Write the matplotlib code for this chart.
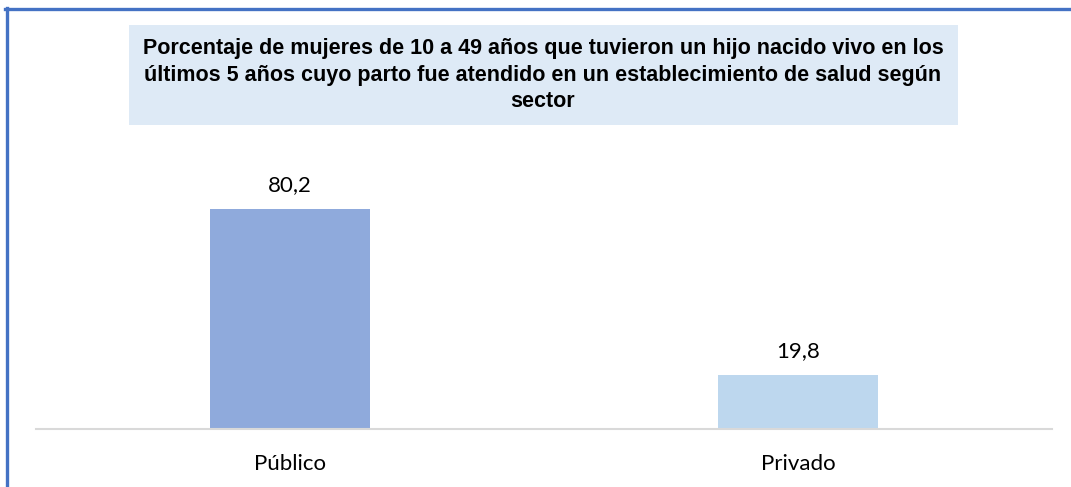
import matplotlib
matplotlib.use("Agg")
import matplotlib.pyplot as plt
from matplotlib.patches import Rectangle
from matplotlib.lines import Line2D

categories = ["Público", "Privado"]
values = [80.2, 19.8]
value_labels = ["80,2", "19,8"]
bar_colors = ["#8FAADC", "#BDD7EE"]
title = ("Porcentaje de mujeres de 10 a 49 años que tuvieron un hijo nacido vivo en los\n"
         "últimos 5 años cuyo parto fue atendido en un establecimiento de salud según\n"
         "sector")

W, H = 1071, 487
fig = plt.figure(figsize=(W / 100, H / 100), dpi=100)


def fx(px):
    return px / W


def fy(py):
    return 1 - py / H


# outer frame (top and left blue lines)
fig.add_artist(Line2D([fx(5), fx(W)], [fy(8.5), fy(8.5)], color="#4472C4", lw=2.4))
fig.add_artist(Line2D([fx(6.5), fx(6.5)], [fy(7.5), fy(H)], color="#4472C4", lw=2.4))

# title box
fig.add_artist(Rectangle((fx(129), fy(125)), fx(958 - 129), (125 - 25) / H,
                         facecolor="#DEEAF6", edgecolor="none"))
fig.text(fx(543), fy(75), title, ha="center", va="center", fontsize=15.5,
         fontweight="bold", family="Liberation Sans", linespacing=1.35)

# plot area
ymax = 90
px_per_unit = 220 / 80.2
ax_top = 429 - ymax * px_per_unit
ax = fig.add_axes([fx(36), fy(429), fx(1052 - 36), (429 - ax_top) / H])
x = range(len(categories))
ax.bar(x, values, width=160 / 508, color=bar_colors)
for xi, v, lab in zip(x, values, value_labels):
    ax.text(xi, v + 5.0, lab, ha="center", va="bottom", fontsize=16, family="Lato")

ax.set_xlim(-0.5, 1.5)
ax.set_ylim(0, ymax)
ax.set_xticks(list(x))
ax.set_xticklabels(categories, fontsize=16, family="Lato")
ax.tick_params(axis="x", length=0, pad=18)
ax.set_yticks([])
for s in ["top", "right", "left"]:
    ax.spines[s].set_visible(False)
ax.spines["bottom"].set_color("#D9D9D9")
ax.spines["bottom"].set_linewidth(1.5)
ax.patch.set_alpha(0)

fig.savefig("out.png", dpi=100)
